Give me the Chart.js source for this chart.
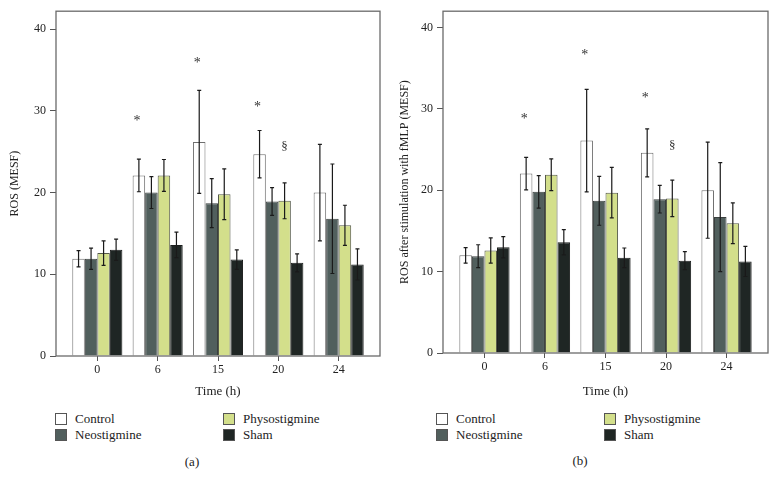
<!DOCTYPE html>
<html>
<head>
<meta charset="utf-8">
<script src="https://cdn.jsdelivr.net/npm/chart.js@4.4.1/dist/chart.umd.min.js"></script>
<style>
  body { margin: 0; width: 776px; height: 487px; background: #fff; position: relative; overflow: hidden;
         font-family: "Liberation Serif", "DejaVu Serif", serif; color: #222; }
  canvas { position: absolute; top: 0; }
  .leg { position: absolute; font-size: 13px; line-height: 13px; white-space: nowrap; }
  .leg .box { position: absolute; top: 0; width: 10px; height: 10px; border: 1px solid #555; }
  .leg .txt { position: absolute; top: -1px; }
  .cap { position: absolute; font-size: 13px; transform: translate(-50%, -50%); }
</style>
</head>
<body>
<canvas id="chartA" width="388" height="400" style="left:0px"></canvas>
<canvas id="chartB" width="388" height="400" style="left:388px"></canvas>
<div id="legends"></div>
<div class="cap" style="left:192px; top:462px">(a)</div>
<div class="cap" style="left:580px; top:461px">(b)</div>
<script>
// categories / series
const timeLabels = ['0', '6', '15', '20', '24'];
const seriesNames = ['Control', 'Neostigmine', 'Physostigmine', 'Sham'];
const seriesColors = ['#ffffff', '#515f5d', '#d3df8b', '#1f2624'];
const seriesBorders = ['#6e6e6e', '#3a3f3e', '#55594a', '#1a1d1c'];
const yTicks = [0, 10, 20, 30, 40];

// panel (a) ROS (MESF): means and error (half-length)
const controlA = [11.9, 22.1, 26.2, 24.7, 20.0];
const neoA     = [11.9, 20.0, 18.7, 18.9, 16.8];
const physoA   = [12.6, 22.1, 19.8, 19.0, 16.0];
const shamA    = [13.0, 13.6, 11.8, 11.4, 11.2];
const controlErrA = [1.0, 2.0, 6.3, 2.9, 5.9];
const neoErrA     = [1.3, 1.95, 3.0, 1.7, 6.7];
const physoErrA   = [1.5, 1.95, 3.1, 2.2, 2.45];
const shamErrA    = [1.3, 1.55, 1.2, 1.1, 1.9];
// significance marks: [time index, series index, value, symbol]
const marksA = [[1, 0, 29.0, '*'], [2, 0, 36.1, '*'], [3, 0, 30.7, '*'], [3, 2, 25.6, '§']];

// panel (b) ROS after stimulation with fMLP (MESF)
const controlB = [12.0, 22.05, 26.1, 24.6, 20.0];
const neoB     = [11.9, 19.8, 18.7, 18.9, 16.7];
const physoB   = [12.6, 21.9, 19.7, 19.0, 15.95];
const shamB    = [13.0, 13.6, 11.7, 11.35, 11.25];
const controlErrB = [0.95, 2.0, 6.3, 2.95, 5.9];
const neoErrB     = [1.4, 2.0, 3.0, 1.7, 6.7];
const physoErrB   = [1.55, 1.95, 3.1, 2.25, 2.5];
const shamErrB    = [1.3, 1.55, 1.2, 1.1, 1.85];
const marksB = [[1, 0, 29.0, '*'], [2, 0, 36.8, '*'], [3, 0, 31.5, '*'], [3, 2, 25.5, '§']];

const FONT = '"Liberation Serif", "DejaVu Serif", serif';

// draws error bars, significance marks and the box round the plot
const extrasPlugin = {
    id: 'extras',
    afterDatasetsDraw: function(chart, args, opts) {
        const ctx = chart.ctx;
        const y = chart.scales.y;
        ctx.save();
        ctx.strokeStyle = '#1a1a1a';
        ctx.lineWidth = 1.2;
        opts.errors.forEach(function(errs, i) {
            const meta = chart.getDatasetMeta(i);
            meta.data.forEach(function(bar, j) {
                const v = chart.data.datasets[i].data[j].y;
                const top = y.getPixelForValue(v + errs[j]);
                const bot = y.getPixelForValue(v - errs[j]);
                ctx.beginPath();
                ctx.moveTo(bar.x, top); ctx.lineTo(bar.x, bot);
                ctx.moveTo(bar.x - 2, top); ctx.lineTo(bar.x + 2, top);
                ctx.moveTo(bar.x - 2, bot); ctx.lineTo(bar.x + 2, bot);
                ctx.stroke();
            });
        });
        ctx.fillStyle = '#333';
        ctx.textAlign = 'center';
        ctx.textBaseline = 'middle';
        opts.marks.forEach(function(m) {
            const bar = chart.getDatasetMeta(m[1]).data[m[0]];
            ctx.font = (m[3] === '*' ? '14px ' : '13px ') + FONT;
            const dy = m[3] === '*' ? 2 : 0;
            ctx.fillText(m[3], bar.x - (m[3] === '*' ? 2 : 0), y.getPixelForValue(m[2]) + dy);
        });
        ctx.restore();
    },
    afterDraw: function(chart) {
        const a = chart.chartArea;
        const ctx = chart.ctx;
        ctx.save();
        ctx.strokeStyle = '#6a6a6a';
        ctx.lineWidth = 1.3;
        ctx.strokeRect(a.left, a.top, a.right - a.left, a.bottom - a.top);
        ctx.restore();
    }
};

function makeChart(id, means, errors, marks, yTitle, geo) {
    const datasets = means.map(function(vals, i) {
        return {
            label: seriesNames[i],
            data: vals.map(function(v, j) { return { x: j, y: v }; }),
            backgroundColor: seriesColors[i],
            borderColor: seriesBorders[i],
            borderWidth: 1,
            barPercentage: 1,
            categoryPercentage: 0.83
        };
    });
    const tickFont = { family: FONT, size: 12 };
    return new Chart(document.getElementById(id), {
        type: 'bar',
        data: { datasets: datasets },
        options: {
            responsive: false,
            devicePixelRatio: 1,
            animation: false,
            layout: { padding: { top: geo.top, right: geo.right, left: 0, bottom: 0 } },
            plugins: {
                legend: { display: false },
                tooltip: { enabled: false },
                extras: { errors: errors, marks: marks }
            },
            scales: {
                x: {
                    type: 'linear',
                    offset: false,
                    min: -0.685,
                    max: 4.685,
                    afterBuildTicks: function(s) { s.ticks = timeLabels.map(function(t, i) { return { value: i }; }); },
                    afterFit: function(s) { s.height = geo.xh; },
                    ticks: {
                        callback: function(v) { return timeLabels[v]; },
                        font: tickFont, color: '#222', padding: 2, maxRotation: 0
                    },
                    grid: { offset: false, drawOnChartArea: false, drawTicks: true, tickLength: 5, color: '#555', lineWidth: 1 },
                    border: { display: false },
                    title: { display: true, text: 'Time (h)', font: { family: FONT, size: 13 }, color: '#222', padding: { top: 0, bottom: 1 } }
                },
                y: {
                    min: 0,
                    max: geo.ymax,
                    afterBuildTicks: function(s) { s.ticks = yTicks.map(function(v) { return { value: v }; }); },
                    afterFit: function(s) { s.width = geo.yw; },
                    ticks: { font: tickFont, color: '#222', padding: 4 },
                    grid: { drawOnChartArea: false, drawTicks: true, tickLength: 6, color: '#555', lineWidth: 1 },
                    border: { display: false },
                    title: { display: true, text: yTitle, font: { family: FONT, size: 12 }, color: '#222', padding: { top: geo.tp, bottom: 0 } }
                }
            }
        },
        plugins: [extrasPlugin]
    });
}

makeChart('chartA', [controlA, neoA, physoA, shamA], [controlErrA, neoErrA, physoErrA, shamErrA], marksA,
    'ROS (MESF)', { top: 10, right: 8, xh: 44, yw: 56, ymax: 42.2, tp: 8 });
makeChart('chartB', [controlB, neoB, physoB, shamB], [controlErrB, neoErrB, physoErrB, shamErrB], marksB,
    'ROS after stimulation with fMLP (MESF)', { top: 8, right: 8, xh: 47, yw: 55, ymax: 42, tp: 10 });

// legends (html)
function addLegend(boxX, textX) {
    const host = document.getElementById('legends');
    seriesNames.forEach(function(name, i) {
        const col = i === 0 || i === 1 ? 0 : 1;
        const row = i === 0 || i === 2 ? 0 : 1;
        const el = document.createElement('div');
        el.className = 'leg';
        el.style.left = boxX[col] + 'px';
        el.style.top = (413 + row * 16) + 'px';
        el.innerHTML = '<span class="box" style="left:0;background:' + seriesColors[i] + '"></span>' +
            '<span class="txt" style="left:' + (textX[col] - boxX[col]) + 'px">' + name + '</span>';
        host.appendChild(el);
    });
}
addLegend([55, 223], [75, 243]);
addLegend([436, 604], [456, 624]);
</script>
</body>
</html>
